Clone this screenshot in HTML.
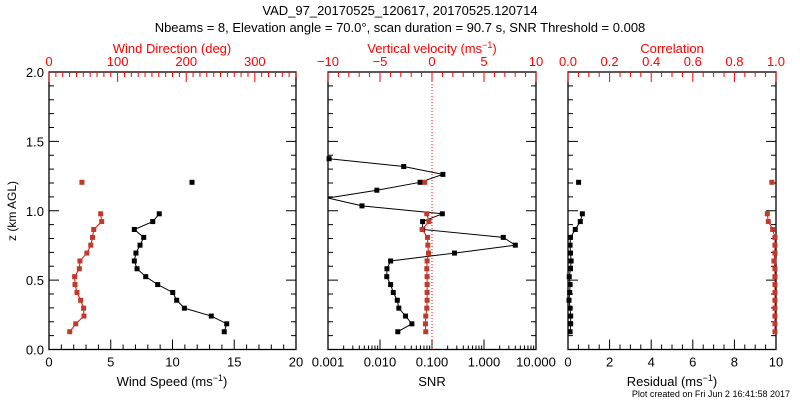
<!DOCTYPE html>
<html><head><meta charset="utf-8"><style>
body{margin:0;background:#fff}
svg{display:block;font-family:"Liberation Sans",sans-serif}
</style></head><body>
<svg id="c" width="800" height="400" xmlns="http://www.w3.org/2000/svg">
<text x="400" y="15" font-size="13" text-anchor="middle">VAD_97_20170525_120617, 20170525.120714</text>
<text x="400" y="32" font-size="13" text-anchor="middle">Nbeams = 8, Elevation angle = 70.0°, scan duration = 90.7 s, SNR Threshold = 0.008</text>
<text transform="translate(16,211) rotate(-90)" font-size="12" text-anchor="middle">z (km AGL)</text>
<text x="172" y="53" font-size="13" fill="#f00" text-anchor="middle">Wind Direction (deg)</text>
<text x="172" y="386" font-size="13" text-anchor="middle">Wind Speed (ms<tspan font-size="9" dy="-5">−1</tspan><tspan dy="5">)</tspan></text>
<text x="432" y="53" font-size="13" fill="#f00" text-anchor="middle">Vertical velocity (ms<tspan font-size="9" dy="-5">−1</tspan><tspan dy="5">)</tspan></text>
<text x="432" y="386" font-size="13" text-anchor="middle">SNR</text>
<text x="672" y="53" font-size="13" fill="#f00" text-anchor="middle">Correlation</text>
<text x="672" y="386" font-size="13" text-anchor="middle">Residual (ms<tspan font-size="9" dy="-5">−1</tspan><tspan dy="5">)</tspan></text>
<text x="790" y="397" font-size="9" text-anchor="end">Plot created on Fri Jun  2 16:41:58 2017</text>
</svg>
<script>
const heights=[0.128,0.185,0.241,0.298,0.355,0.411,0.468,0.525,0.582,0.638,0.695,0.752,0.808,0.865,0.922,0.978,1.035,1.092,1.148,1.205,1.262,1.319,1.375];
const windSpeed=[14.19,14.39,13.14,10.96,10.34,10.02,8.80,7.83,7.13,6.91,7.04,7.37,7.67,6.91,8.40,8.93,null,null,null,11.58,null,null,null];
const windDir=[30.2,38.9,50.9,50.4,46.1,40.8,37.9,37.4,44.2,45.1,55.2,60.9,63.4,65.2,76.8,75.3,null,null,null,48,null,null,null];
const snr=[0.022,0.041,0.031,0.023,0.0215,0.018,0.016,0.0135,0.0136,0.016,0.27,4.0,2.35,0.066,0.066,0.158,0.0045,0.0005,0.0087,0.059,0.162,0.0286,0.00105];
const wVel=[-0.60,-0.63,-0.60,-0.50,-0.47,-0.47,-0.47,-0.47,-0.50,-0.47,-0.34,-0.40,-0.43,-0.95,-0.30,-0.50,null,null,null,-0.69,null,null,null];
const residual=[0.1,0.13,0.13,0.1,0.05,0.08,0.1,0.06,0.12,0.15,0.12,0.1,0.12,0.35,0.59,0.69,null,null,null,0.51,null,null,null];
const corr=[0.995,0.995,0.995,0.995,0.995,0.995,0.995,0.995,0.995,0.99,0.995,0.995,0.995,0.984,0.963,0.958,null,null,null,0.98,null,null,null];
const yTicks=["0.0","0.5","1.0","1.5","2.0"];
const speedTicks=["0","5","10","15","20"];
const dirTicks=["0","100","200","300"];
const snrTicks=["0.001","0.010","0.100","1.000","10.000"];
const velTicks=["−10","−5","0","5","10"];
const resTicks=["0","2","4","6","8","10"];
const corrTicks=["0.0","0.2","0.4","0.6","0.8","1.0"];

const svg=document.getElementById('c');
const NS='http://www.w3.org/2000/svg';
const T=72,B=349.5;
const yS=z=>B-(z/2)*(B-T);
function mk(tag,at,name){const e=document.createElementNS(NS,tag);for(const k in at)e.setAttribute(k,at[k]);


svg.appendChild(e);return e;}
function txt(x,y,s,col,anchor,name){const e=mk('text',{x:x,y:y,'font-size':13,fill:col,'text-anchor':anchor},name);e.textContent=s;return e;}
function line(x1,y1,x2,y2,col,name,extra){return mk('line',Object.assign({x1,y1,x2,y2,stroke:col,'stroke-width':1},extra||{}),name);}

function panel(L,R,key){
  mk('rect',{x:L,y:T,width:R-L,height:B-T,fill:'none',stroke:'#000','stroke-width':1.3},key+'-frame');
  for(let i=0;i<=20;i++){const z=i*0.1,y=yS(z),len=i%5==0?10:5;
    line(L,y,L+len,y,'#000',key+'-ytick');line(R,y,R-len,y,'#000',key+'-ytick-right');}
}
function ticksLin(L,R,min,max,major,minor,labels,top,col,key){
  const sx=v=>L+(v-min)/(max-min)*(R-L);
  const y0=top?T:B,d=top?1:-1;
  const n=Math.round((max-min)/minor);
  for(let i=0;i<=n;i++){const v=min+i*minor;const isM=Math.abs((v-min)/major-Math.round((v-min)/major))<1e-6;
    line(sx(v),y0,sx(v),y0+d*(isM?10:5),col,key+'-tick');}
  labels.forEach((s,i)=>{const v=min+i*major;txt(sx(v),top?T-6:B+17,s,col,'middle',key+'-tick-label');});
  return sx;
}
yTicks.forEach((s,i)=>txt(44,yS(i*0.5)+5,s,'#000','end','y-tick-label'));

panel(49,296,'wind');
const sxSpd=ticksLin(49,296,0,20,5,1,speedTicks,false,'#000','speed');
const sxDir=ticksLin(49,296,0,360,100,10,dirTicks,true,'#f00','direction');
panel(328,536,'snr');
const sxSnr=v=>328+(Math.log10(Math.max(v,1e-4))+3)/4*208;
for(let d=-3;d<1;d++)for(let k=1;k<10;k++){const x=sxSnr(k*Math.pow(10,d));line(x,B,x,B-(k==1?10:4),'#000','snr-tick');}
line(536,B,536,B-10,'#000','snr-tick');
snrTicks.forEach((s,i)=>txt(328+i*52,B+17,s,'#000','middle','snr-tick-label'));
const sxVel=ticksLin(328,536,-10,10,5,1,velTicks,true,'#f00','velocity');
line(sxVel(0),T,sxVel(0),B,'#f00','zero-velocity-line',{'stroke-dasharray':'1,2'});
panel(568,776,'residual');
const sxRes=ticksLin(568,776,0,10,2,0.5,resTicks,false,'#000','residual');
const sxCor=ticksLin(568,776,0,1,0.2,0.05,corrTicks,true,'#f00','correlation');

function series(vals,sx,lcol,mcol,name,clipL,clipR){
  let seg=[];const segs=[];
  vals.forEach((v,i)=>{if(v===null){if(seg.length)segs.push(seg);seg=[];}else seg.push([sx(v),yS(heights[i])]);});
  if(seg.length)segs.push(seg);
  segs.forEach(s=>{
    const p=s.map(q=>[Math.max(clipL,Math.min(clipR,q[0])),q[1]]);
    if(p.length>1){mk('polyline',{points:p.map(q=>q.join(',')).join(' '),fill:'none',stroke:lcol,'stroke-width':1},name+'-line');}
    s.forEach(q=>{if(q[0]>=clipL-1&&q[0]<=clipR+1)mk('rect',{x:q[0]-2.5,y:q[1]-2.5,width:5,height:5,fill:mcol},name+'-marker');});
  });
}
series(windDir,sxDir,'#f00','#c0392b','wind-direction-series',49,296);
series(windSpeed,sxSpd,'#000','#000','wind-speed-series',49,296);
series(snr,sxSnr,'#000','#000','snr-series',328,536);
series(wVel,sxVel,'#f00','#c0392b','vertical-velocity-series',328,536);
series(residual,sxRes,'#000','#000','residual-series',568,776);
series(corr,sxCor,'#f00','#c0392b','correlation-series',568,776);
</script>
</body></html>
